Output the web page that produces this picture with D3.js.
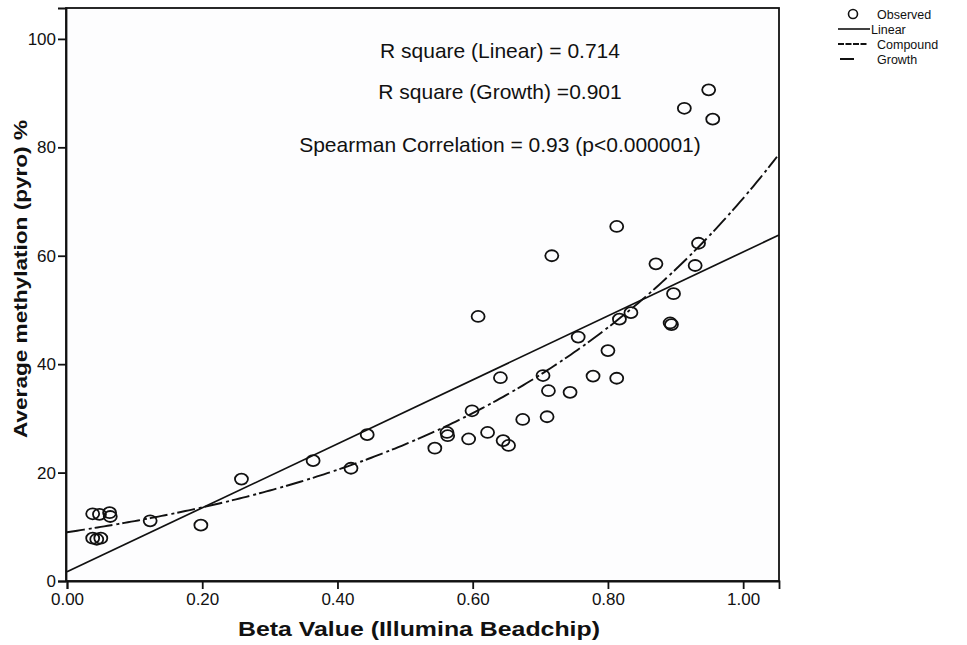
<!DOCTYPE html>
<html>
<head>
<meta charset="utf-8">
<script src="https://cdn.jsdelivr.net/npm/d3@7"></script>
<style>
  body { margin: 0; background: #fff; }
  text { font-family: "Liberation Sans", Arial, sans-serif; fill: #111; }
</style>
</head>
<body>
<div id="chart"></div>
<script>
// observed points: beta value (x) vs pyro methylation % (y)
const betaValues = [0.038, 0.048, 0.063, 0.064, 0.038, 0.044, 0.050, 0.123, 0.198, 0.258,
  0.364, 0.420, 0.444, 0.544, 0.562, 0.563, 0.594, 0.599, 0.608, 0.622,
  0.641, 0.645, 0.653, 0.674, 0.704, 0.710, 0.712, 0.717, 0.744, 0.756,
  0.778, 0.800, 0.813, 0.813, 0.817, 0.834, 0.871, 0.892, 0.894, 0.897,
  0.913, 0.929, 0.934, 0.949, 0.955];
const pyroValues = [12.4, 12.3, 12.6, 11.9, 7.9, 7.7, 7.9, 11.1, 10.3, 18.8,
  22.2, 20.8, 27.0, 24.5, 27.4, 26.8, 26.2, 31.4, 48.8, 27.4,
  37.5, 25.9, 25.0, 29.8, 37.9, 30.3, 35.1, 60.0, 34.8, 45.0,
  37.8, 42.5, 37.4, 65.4, 48.3, 49.5, 58.5, 47.6, 47.3, 53.0,
  87.2, 58.2, 62.3, 90.6, 85.2];

// fitted curves: linear [b0, b1], growth exp(b0 + b1*x)
const linearFit = [1.7, 59.0];
const growthFit = [2.197, 2.06];

const xTicks = [0, 0.2, 0.4, 0.6, 0.8, 1.0];
const yTicks = [0, 20, 40, 60, 80, 100];

const legendLabels = ["Observed", "Linear", "Compound", "Growth"];
const notes = ["R square (Linear) = 0.714", "R square (Growth) =0.901",
  "Spearman Correlation = 0.93 (p<0.000001)"];

const width = 967, height = 645;
const plotLeft = 66, plotRight = 779, plotTop = 8, plotBottom = 581;

const svg = d3.select('#chart')
  .append('svg')
  .attr('width', width)
  .attr('height', height);

const x = d3.scaleLinear().domain([0, 1.053]).range([plotLeft + 1, plotRight]);
const y = d3.scaleLinear().domain([0, 105.7]).range([plotBottom, plotTop]);

// plot frame
svg.append('rect')
  .attr('x', plotLeft).attr('y', plotTop)
  .attr('width', plotRight - plotLeft).attr('height', plotBottom - plotTop)
  .attr('fill', '#fdfdfe')
  .attr('stroke', '#111').attr('stroke-width', 1.8);

// axes
const xAxis = svg.append('g')
  .attr('transform', `translate(0,${plotBottom})`)
  .call(d3.axisBottom(x).tickValues(xTicks).tickFormat(d3.format('.2f')).tickSize(8).tickPadding(4));
const yAxis = svg.append('g')
  .attr('transform', `translate(${plotLeft},0)`)
  .call(d3.axisLeft(y).tickValues(yTicks).tickSize(8).tickPadding(2));

[xAxis, yAxis].forEach(g => {
  g.select('.domain').attr('stroke', '#111').attr('stroke-width', 1.8);
  g.selectAll('.tick line').attr('stroke', '#111').attr('stroke-width', 1.8);
  g.selectAll('.tick text').attr('font-size', 17).attr('fill', '#111')
    .style('font-family', '"Liberation Sans", Arial, sans-serif');
});

// axis titles
svg.append('text')
  .attr('x', 419).attr('y', 636)
  .attr('text-anchor', 'middle')
  .attr('font-size', 20).attr('font-weight', 'bold')
  .attr('textLength', 362).attr('lengthAdjust', 'spacingAndGlyphs')
  .text('Beta Value (Illumina Beadchip)');

svg.append('text')
  .attr('transform', 'translate(27,279) rotate(-90)')
  .attr('text-anchor', 'middle')
  .attr('font-size', 19).attr('font-weight', 'bold')
  .attr('textLength', 318).attr('lengthAdjust', 'spacingAndGlyphs')
  .text('Average methylation (pyro) %');

// fit lines
const xs = d3.range(0, 1.0531, 0.005);
const line = d3.line().x(d => x(d[0])).y(d => y(d[1]));

svg.append('path')
  .datum(x.domain().map(v => [v, linearFit[0] + linearFit[1] * v]))
  .attr('d', line)
  .attr('fill', 'none').attr('stroke', '#111').attr('stroke-width', 1.7);

const growthPts = xs.map(v => [v, Math.exp(growthFit[0] + growthFit[1] * v)]);
// compound (same curve, long dashes)
svg.append('path')
  .datum(growthPts)
  .attr('d', line)
  .attr('fill', 'none').attr('stroke', '#111').attr('stroke-width', 1.9)
  .attr('stroke-dasharray', '18,10');
// growth (short dashes in the gaps)
svg.append('path')
  .datum(growthPts)
  .attr('d', line)
  .attr('fill', 'none').attr('stroke', '#111').attr('stroke-width', 1.9)
  .attr('stroke-dasharray', '3,25').attr('stroke-dashoffset', 6);

// observed points
svg.selectAll('.pt')
  .data(betaValues.map((b, i) => [b, pyroValues[i]]))
  .enter()
  .append('ellipse')
  .attr('class', 'pt')
  .attr('cx', d => x(d[0]))
  .attr('cy', d => y(d[1]))
  .attr('rx', 6.5).attr('ry', 5.5)
  .attr('fill', 'none').attr('stroke', '#111').attr('stroke-width', 1.8);

// annotations
svg.selectAll('.note')
  .data(notes)
  .enter()
  .append('text')
  .attr('class', 'note')
  .attr('x', 500)
  .attr('y', (d, i) => [58, 99, 152][i])
  .attr('text-anchor', 'middle')
  .attr('font-size', 21)
  .text(d => d);

// legend
const lg = svg.append('g').attr('transform', 'translate(838,0)');
const rowY = [14, 29, 44, 59];
lg.append('circle').attr('cx', 15).attr('cy', rowY[0]).attr('r', 4.5)
  .attr('fill', 'none').attr('stroke', '#111').attr('stroke-width', 1.6);
lg.append('line').attr('x1', 0).attr('x2', 32).attr('y1', rowY[1]).attr('y2', rowY[1])
  .attr('stroke', '#111').attr('stroke-width', 1.6);
lg.append('line').attr('x1', 0).attr('x2', 30).attr('y1', rowY[2]).attr('y2', rowY[2])
  .attr('stroke', '#111').attr('stroke-width', 2).attr('stroke-dasharray', '6,1.5');
lg.append('line').attr('x1', 2).attr('x2', 16).attr('y1', rowY[3]).attr('y2', rowY[3])
  .attr('stroke', '#111').attr('stroke-width', 2);
lg.selectAll('.lt')
  .data(legendLabels)
  .enter()
  .append('text')
  .attr('class', 'lt')
  .attr('x', (d, i) => i === 1 ? 33 : 39)
  .attr('y', (d, i) => rowY[i] + 4.5)
  .attr('font-size', 12.5)
  .text(d => d);
</script>
</body>
</html>
